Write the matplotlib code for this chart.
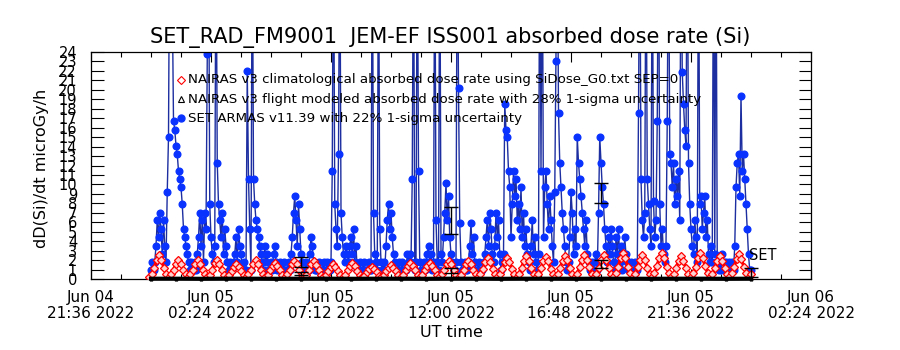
import numpy as np
import matplotlib.pyplot as plt
from matplotlib.lines import Line2D
from matplotlib.ticker import MultipleLocator

plt.rcParams['font.family'] = ['DejaVu Sans']

# SET ARMAS absorbed dose rate, one sample every 3 min from 00:00 UT Jun 05 2022
# (values above 24 run off the top of the plot)
set_step_min = 3
set_dose = [
    0.9, 1.8, 0.9, 1.8, 3.5, 6.2, 4.4, 7.0, 5.3, 2.6, 6.2, 3.5, 1.8, 9.2, 15.0, 40, 38, 30, 16.7, 15.8,
    14.1, 13.2, 11.4, 10.6, 9.7, 7.9, 5.3, 4.4, 3.5, 2.6, 1.8, 0.9, 1.8, 0.9, 0.9, 1.8, 0.9, 2.6, 4.4, 7.0,
    3.5, 6.2, 1.8, 7.0, 5.3, 23.8, 40, 7.9, 4.4, 2.6, 1.8, 3.5, 40, 12.3, 7.9, 6.2, 4.4, 7.0, 2.6, 5.3,
    3.5, 1.8, 0.9, 1.8, 0.9, 0.9, 1.8, 2.6, 4.4, 1.8, 5.3, 3.5, 2.6, 0.9, 1.8, 0.9, 0.9, 22.0, 10.6, 5.3,
    0.9, 40, 10.6, 7.9, 6.2, 5.3, 4.4, 3.5, 2.6, 1.8, 0.9, 3.5, 1.8, 2.6, 0.9, 0.9, 1.8, 0.9, 2.6, 3.5,
    1.8, 0.9, 0.9, 1.8, 0.9, 0.9, 1.8, 0.9, 0.9, 0.9, 1.8, 0.9, 2.6, 4.4, 7.0, 8.8, 6.2, 3.5, 7.9, 5.3,
    2.6, 1.8, 0.9, 0.9, 1.8, 0.9, 0.9, 2.6, 4.4, 3.5, 1.8, 0.9, 0.9, 0.9, 1.8, 0.9, 0.9, 0.9, 1.8, 0.9,
    0.9, 1.8, 0.9, 0.9, 1.8, 11.4, 40, 7.9, 5.3, 3.5, 13.2, 40, 7.0, 4.4, 2.6, 1.8, 3.5, 2.6, 1.8, 3.5,
    4.4, 2.6, 5.3, 1.8, 3.5, 0.9, 0.9, 1.8, 0.9, 0.9, 1.8, 0.9, 0.9, 0.9, 1.8, 0.9, 0.9, 40, 7.0, 2.6,
    1.8, 0.9, 40, 5.3, 1.8, 0.9, 1.8, 0.9, 3.5, 6.2, 7.9, 5.3, 7.0, 4.4, 2.6, 1.8, 0.9, 0.9, 1.8, 0.9,
    0.9, 1.8, 0.9, 0.9, 0.9, 2.6, 1.8, 2.6, 1.8, 10.6, 40, 0.9, 1.8, 40, 11.4, 1.8, 0.9, 0.9, 1.8, 0.9,
    1.8, 2.6, 3.5, 1.8, 2.6, 0.9, 1.8, 40, 6.2, 1.8, 0.9, 40, 2.6, 1.8, 4.4, 7.0, 10.1, 6.2, 8.8, 4.4,
    2.6, 1.8, 0.9, 0.9, 1.8, 40, 20.2, 5.9, 1.8, 0.9, 0.9, 1.8, 0.9, 0.9, 1.8, 3.5, 5.9, 2.6, 4.4, 1.8,
    0.9, 0.9, 1.8, 0.9, 0.9, 0.9, 1.8, 2.6, 4.4, 6.2, 3.5, 7.0, 5.3, 2.6, 1.8, 3.5, 7.0, 4.4, 6.2, 2.6,
    0.9, 1.8, 2.6, 18.5, 15.8, 15.0, 11.4, 9.7, 4.4, 7.9, 11.4, 8.8, 10.6, 6.2, 7.9, 5.3, 9.7, 4.4, 7.0, 3.5,
    5.3, 2.6, 1.8, 0.9, 3.5, 6.2, 2.6, 4.4, 1.8, 0.9, 2.6, 40, 11.4, 40, 4.4, 9.7, 11.4, 7.9, 5.3, 8.8,
    6.2, 3.5, 1.8, 9.2, 23.1, 40, 17.6, 12.3, 9.7, 7.0, 5.3, 3.5, 1.8, 0.9, 1.8, 4.4, 9.2, 7.0, 2.6, 5.3,
    3.5, 15.0, 12.3, 10.6, 8.8, 7.0, 5.3, 3.5, 6.2, 2.6, 1.8, 0.9, 0.9, 1.8, 0.9, 1.8, 2.6, 0.9, 7.0, 15.0,
    12.3, 9.7, 7.9, 5.3, 3.5, 1.8, 4.4, 2.6, 5.3, 3.5, 1.8, 0.9, 4.4, 2.6, 5.3, 1.8, 3.5, 0.9, 2.6, 4.4,
    2.6, 1.8, 0.9, 0.9, 1.8, 0.9, 0.9, 1.8, 0.9, 0.9, 17.6, 40, 10.6, 6.2, 4.4, 7.0, 40, 10.6, 7.9, 5.3,
    3.5, 40, 8.2, 4.4, 6.2, 16.7, 40, 7.9, 3.5, 5.3, 2.6, 1.8, 3.5, 16.7, 40, 13.2, 12.3, 9.7, 12.3, 7.9,
    10.6, 8.8, 11.4, 6.2, 40, 21.9, 18.5, 15.8, 14.1, 40, 12.3, 7.9, 5.3, 3.5, 2.6, 6.2, 4.4, 1.8, 40, 7.9,
    8.8, 5.3, 7.0, 8.8, 4.4, 6.2, 2.6, 1.8, 3.5, 1.8, 40, 2.6, 40, 1.8, 0.9, 1.8, 0.9, 2.6, 1.8, 0.9,
    1.8, 0.9, 1.8, 0.9, 0.9, 1.8, 0.9, 3.5, 9.7, 12.3, 13.2, 8.8, 19.4, 11.4, 13.2, 10.6, 7.9, 5.3, 2.6, 0.9,
    0.9,
]

# NAIRAS v3 climatological dose rate, one sample every 5.8 min from 23:56 UT Jun 04
nairas_clim_start_min = -4
nairas_clim_step_min = 5.8
nairas_clim = [
    0.2, 0.55, 1.2, 2.0, 2.5, 2.0, 1.2, 0.55,
    0.2, 0.5, 1.0, 1.6, 2.0, 1.6, 1.0, 0.5,
    0.2, 0.5, 1.0, 1.6, 2.0, 1.6, 1.0, 0.5,
    0.2, 0.45, 1.0, 1.65, 2.0, 1.6, 1.0, 0.45,
    0.2, 0.4, 0.8, 1.3, 1.6, 1.3, 0.8, 0.4,
    0.2, 0.5, 1.0, 1.6, 2.0, 1.6, 1.0, 0.5,
    0.2, 0.4, 0.9, 1.4, 1.7, 1.4, 0.9, 0.4,
    0.2, 0.5, 1.0, 1.55, 1.9, 1.55, 0.95, 0.45,
    0.2, 0.45, 0.95, 1.55, 1.9, 1.5, 0.95, 0.45,
    0.2, 0.4, 0.8, 1.3, 1.6, 1.3, 0.8, 0.4,
    0.2, 0.4, 0.9, 1.4, 1.7, 1.4, 0.85, 0.4,
    0.2, 0.35, 0.7, 1.1, 1.3, 1.1, 0.7, 0.35,
    0.2, 0.4, 0.8, 1.2, 1.5, 1.2, 0.8, 0.4,
    0.2, 0.4, 0.9, 1.4, 1.7, 1.4, 0.9, 0.4,
    0.2, 0.45, 0.9, 1.4, 1.7, 1.4, 0.9, 0.45,
    0.2, 0.5, 1.0, 1.55, 1.9, 1.55, 1.0, 0.45,
    0.2, 0.45, 0.95, 1.55, 1.9, 1.55, 0.95, 0.5,
    0.2, 0.5, 1.1, 1.8, 2.2, 1.8, 1.1, 0.5,
    0.2, 0.5, 1.1, 1.8, 2.2, 1.8, 1.1, 0.5,
    0.2, 0.55, 1.2, 1.95, 2.4, 1.95, 1.2, 0.5,
    0.2, 0.5, 1.15, 1.9, 2.3, 1.9, 1.1, 0.5,
    0.2, 0.55, 1.2, 1.95, 2.4, 2.0, 1.2, 0.55,
    0.2, 0.55, 1.25, 2.05, 2.5, 2.05, 1.25, 0.55,
    0.2, 0.55, 1.2, 2.0, 2.5, 2.0, 1.2, 0.55,
    0.2, 0.6, 1.3, 2.2, 2.7, 2.2, 1.3, 0.6,
    0.2, 0.55, 1.25, 2.05, 2.5, 2.0, 1.2, 0.55,
    0.2, 0.6, 1.35, 2.2, 2.7, 2.2, 1.3, 0.6,
    0.2, 0.55, 1.2, 1.95, 2.4, 1.95, 1.2, 0.5,
    0.2, 0.6, 1.3, 2.2, 2.7, 2.2, 1.35, 0.6,
    0.2, 0.5, 1.2, 1.95, 2.4, 1.95, 1.2, 0.55,
    0.2, 0.6, 1.3, 2.1, 2.6, 2.1, 1.3, 0.6,
    0.2, 0.5,
]

# NAIRAS v3 flight modeled dose rate, hourly
nairas_flight_step_min = 60
nairas_flight = [0.03, 0.03, 0.02, 0.03, 0.03, 0.02, 0.03, 0.03, 0.02, 0.03, 0.03, 0.02, 0.03,
                 0.03, 0.02, 0.03, 0.03, 0.02, 0.03, 0.03, 0.02, 0.03, 0.03, 0.02, 0.03]

# error bars (minutes after 00:00 Jun 05)
set_err_min = [360, 720, 1080]
set_err_val = [1.8, 6.2, 9.05]
set_err_sig = [0.56, 1.4, 1.05]
nairas_err_min = [360, 720, 1080, 1440]
nairas_err_val = [0.6, 0.9, 1.6, 0.7]
nairas_err_sig = [0.18, 0.3, 0.4, 0.5]

tick_hours = [-2.4, 2.4, 7.2, 12.0, 16.8, 21.6, 26.4]
tick_labels = ['Jun 04\n21:36 2022', 'Jun 05\n02:24 2022', 'Jun 05\n07:12 2022', 'Jun 05\n12:00 2022',
               'Jun 05\n16:48 2022', 'Jun 05\n21:36 2022', 'Jun 06\n02:24 2022']

legend_labels = ['NAIRAS v3 climatological absorbed dose rate using SiDose_G0.txt SEP=0',
                 'NAIRAS v3 flight modeled absorbed dose rate with 28% 1-sigma uncertainty',
                 'SET ARMAS v11.39 with 22% 1-sigma uncertainty']

set_hours = np.arange(len(set_dose)) * set_step_min / 60.0
clim_hours = (nairas_clim_start_min + np.arange(len(nairas_clim)) * nairas_clim_step_min) / 60.0
flight_hours = np.arange(len(nairas_flight)) * nairas_flight_step_min / 60.0

fig = plt.figure(figsize=(9, 3.5), dpi=100)
ax = fig.add_axes([91 / 900, 71 / 350, 720 / 900, 227 / 350])

blue_line = '#1c2ea0'
blue_mark = '#0a32ff'

ax.plot(set_hours, set_dose, color=blue_line, lw=1.0, marker='o', ms=4.8,
        mfc=blue_mark, mec=blue_mark, zorder=2)
ax.plot(clim_hours, nairas_clim, color='red', lw=2.2, marker='D', ms=4,
        mfc='#ffd0d0', mec='red', mew=0.9, zorder=3)
ax.plot(flight_hours, nairas_flight, color='black', lw=3, marker='^', ms=2,
        zorder=4, clip_on=False)
ax.errorbar(np.array(set_err_min) / 60.0, set_err_val, yerr=set_err_sig, fmt='none',
            ecolor='black', elinewidth=1, capsize=5, zorder=5)
ax.errorbar(np.array(nairas_err_min) / 60.0, nairas_err_val, yerr=nairas_err_sig, fmt='none',
            ecolor='black', elinewidth=1, capsize=5, zorder=5)
ax.text(23.93, 2.45, 'SET', fontsize=10.5, ha='left', va='center')

ax.set_xlim(-2.4, 26.4)
ax.set_ylim(0, 24)
ax.set_xticks(tick_hours)
ax.set_xticklabels(tick_labels, fontsize=11, linespacing=1.05)
ax.xaxis.set_minor_locator(MultipleLocator(1.2))
ax.set_yticks(np.arange(0, 25, 1))
ax.set_yticklabels([str(v) for v in range(25)], fontsize=10.5)
ax.tick_params(axis='x', which='major', direction='in', top=True, length=7, width=0.8, pad=8)
ax.tick_params(axis='x', which='minor', direction='in', top=True, length=3.5, width=0.8)
ax.tick_params(axis='y', which='major', direction='in', right=True, length=9, width=0.8, pad=10)
for s in ax.spines.values():
    s.set_linewidth(0.9)

ax.set_xlabel('UT time', fontsize=11.5, labelpad=3)
fig.text(42 / 900, 1 - 168 / 350, 'dD(Si)/dt microGy/h', rotation=90, fontsize=11.5,
         ha='center', va='center')
fig.text(450 / 900, 1 - 38 / 350, 'SET_RAD_FM9001  JEM-EF ISS001 absorbed dose rate (Si)',
         fontsize=15, ha='center', va='center')

# legend drawn as markers + text, IDL style
leg_y = [80, 99, 118]
leg_markers = [dict(marker='D', mfc='white', mec='red', ms=4, mew=0.8),
               dict(marker='^', mfc='white', mec='black', ms=5, mew=0.8),
               dict(marker='o', mfc=blue_mark, mec=blue_mark, ms=5)]
for yy, lab, mk in zip(leg_y, legend_labels, leg_markers):
    fig.add_artist(Line2D([181 / 900], [1 - yy / 350], transform=fig.transFigure, ls='none', **mk))
    fig.text(188 / 900, 1 - yy / 350, lab, fontsize=9.6, ha='left', va='center')

fig.savefig('out.png', dpi=100)
